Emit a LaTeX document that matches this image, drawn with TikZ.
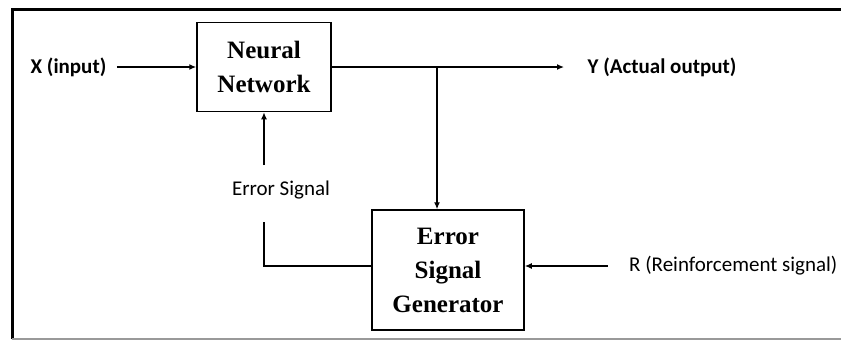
\documentclass[tikz,border=0pt]{standalone}
\usepackage{fontspec}
\setmainfont{Liberation Serif}
\newfontfamily\labelfont{Carlito}
\usetikzlibrary{arrows.meta,positioning}
\definecolor{framegray}{gray}{0.60}

\begin{document}
\begin{tikzpicture}[x=1pt, y=-1pt, line width=1.3pt,
  every node/.style={inner sep=2pt, font=\labelfont\fontsize{21}{24}\selectfont},
  blockbox/.style={draw, line width=1.5pt, align=center, inner sep=0pt, font=\fontsize{25}{34}\selectfont\bfseries},
  iolabel/.style={font=\labelfont\bfseries\fontsize{21}{24}\selectfont},
  signal/.style={-{Latex[length=7pt,width=6pt]}}]
  \useasboundingbox (0,0) rectangle (841,341);
  \draw[line width=3pt] (12,339) -- (12,9) -- (841,9);
  \draw[framegray, line width=2pt] (12,339) -- (841,339);

  \node[blockbox, minimum width=134pt, minimum height=89pt] (nn) at (264,67) {Neural\\Network};
  \node[blockbox, minimum width=152pt, minimum height=120pt] (esg) at (448,270) {Error\\Signal\\Generator};

  \node[iolabel, anchor=west] (xin) at (28,67) {X (input)};
  \node[iolabel, anchor=west] (yout) at (585,67) {Y (Actual output)};
  \node (err) at (281,190) {Error Signal};
  \node[anchor=east] (rin) at (840,266) {R (Reinforcement signal)};

  \coordinate (split) at (437,67);
  \coordinate (errtop) at (264,165);
  \coordinate (errbot) at (264,222);

  \draw[signal, shorten <=8pt] (xin) -- (nn);
  \draw[signal, shorten >=21pt] (nn) -- (yout);
  \draw[signal] (split) -- (split |- esg.north);
  \draw[signal] (errtop) -- (nn.south);
  \draw (esg.west |- rin) -| (errbot);
  \draw[signal, shorten <=19pt] (rin.west) -- (esg.east |- rin);
\end{tikzpicture}
\end{document}
